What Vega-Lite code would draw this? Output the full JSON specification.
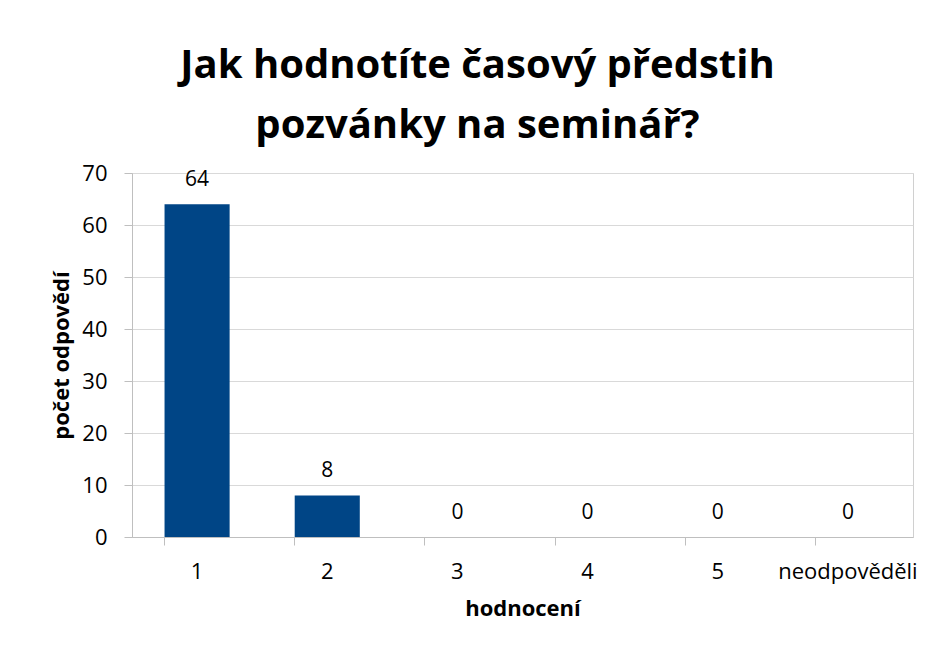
{
  "$schema": "https://vega.github.io/schema/vega-lite/v6.json",
  "autosize": {"type": "none"},
  "width": 781,
  "height": 364,
  "padding": {"left": 132, "top": 173, "right": 14, "bottom": 109},
  "background": "white",
  "title": {
    "text": ["Jak hodnotíte časový předstih", "pozvánky na seminář?"],
    "font": "Open Sans",
    "fontSize": 40,
    "fontWeight": "bold",
    "color": "#000000",
    "lineHeight": 60,
    "anchor": "middle",
    "dx": -45,
    "offset": 16
  },
  "data": {
    "values": [
      {"hodnoceni": "1", "pocet": 64},
      {"hodnoceni": "2", "pocet": 8},
      {"hodnoceni": "3", "pocet": 0},
      {"hodnoceni": "4", "pocet": 0},
      {"hodnoceni": "5", "pocet": 0},
      {"hodnoceni": "neodpověděli", "pocet": 0}
    ]
  },
  "config": {
    "view": {"stroke": "#d0d0d0", "strokeWidth": 1},
    "axis": {
      "labelFont": "Open Sans",
      "titleFont": "Open Sans",
      "labelColor": "#000000",
      "titleColor": "#000000",
      "labelFontSize": 22,
      "titleFontSize": 22,
      "titleFontWeight": "bold",
      "gridColor": "#d9d9d9",
      "domainColor": "#bfbfbf",
      "tickColor": "#bfbfbf",
      "tickSize": 8
    }
  },
  "layer": [
    {
      "mark": {"type": "bar", "color": "#004586"},
      "encoding": {
        "x": {
          "field": "hodnoceni",
          "type": "nominal",
          "sort": null,
          "scale": {"paddingInner": 0.5, "paddingOuter": 0.25},
          "axis": {
            "title": "hodnocení",
            "labelAngle": 0,
            "labelPadding": 16,
            "titlePadding": 16,
            "bandPosition": 0,
            "grid": false
          }
        },
        "y": {
          "field": "pocet",
          "type": "quantitative",
          "scale": {"domain": [0, 70]},
          "axis": {
            "title": "počet odpovědí",
            "values": [0, 10, 20, 30, 40, 50, 60, 70],
            "labelPadding": 17,
            "titlePadding": 8,
            "domain": true
          }
        }
      }
    },
    {
      "mark": {"type": "text", "baseline": "bottom", "dy": -14, "font": "Open Sans", "fontSize": 21, "color": "#000000"},
      "encoding": {
        "x": {"field": "hodnoceni", "type": "nominal", "sort": null},
        "y": {"field": "pocet", "type": "quantitative"},
        "text": {"field": "pocet", "type": "quantitative"}
      }
    }
  ]
}
